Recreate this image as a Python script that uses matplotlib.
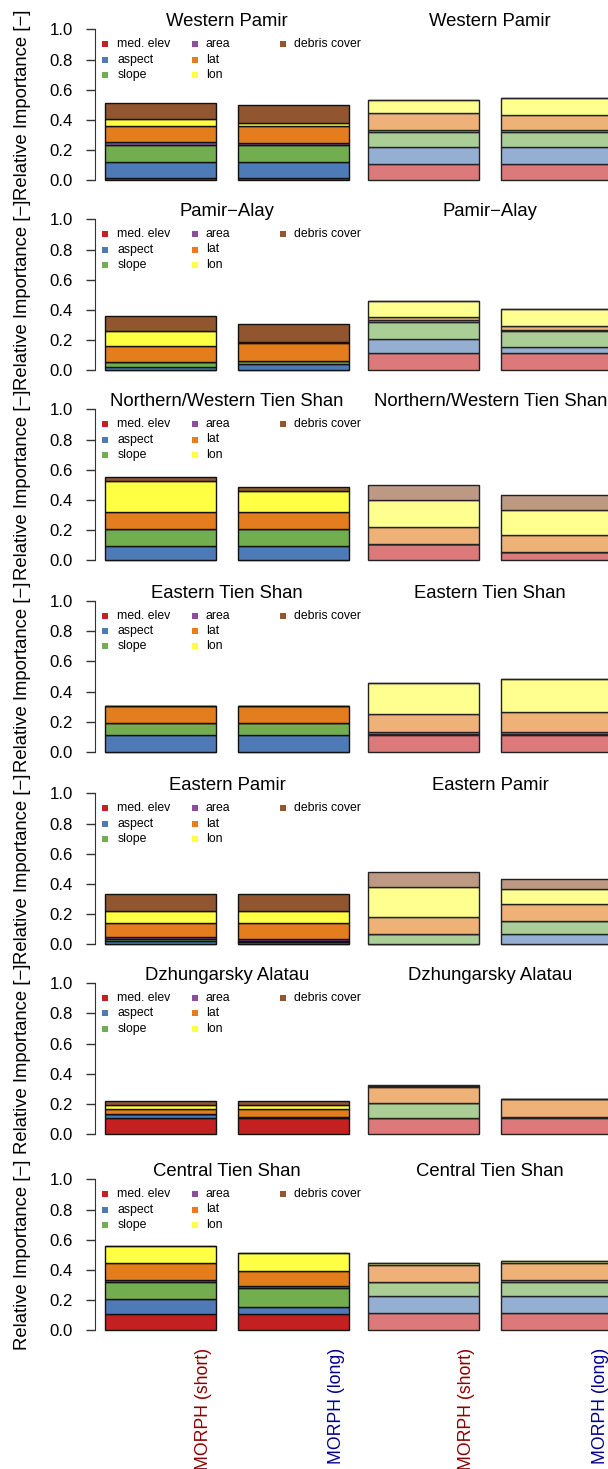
import matplotlib
matplotlib.use("Agg")
import matplotlib.pyplot as plt
from matplotlib.colors import to_rgb

plt.rcParams['font.family'] = ['Liberation Sans', 'DejaVu Sans']

# ---------------- data ----------------
regions = ["Western Pamir", "Pamir\u2212Alay", "Northern/Western Tien Shan",
           "Eastern Tien Shan", "Eastern Pamir", "Dzhungarsky Alatau",
           "Central Tien Shan"]
variables = ["med. elev", "aspect", "slope", "area", "lat", "lon", "debris cover"]
bar_labels = ["MORPH (short)", "MORPH (long)"]

# each: [left short, left long, right short, right long]; values per variable
western_pamir = [
    [0.013, 0.108, 0.115, 0.016, 0.108, 0.044, 0.108],
    [0.013, 0.108, 0.115, 0.014, 0.110, 0.022, 0.119],
    [0.108, 0.113, 0.097, 0.015, 0.111, 0.086, 0.000],
    [0.108, 0.113, 0.097, 0.015, 0.097, 0.113, 0.000],
]
pamir_alay = [
    [0.000, 0.024, 0.029, 0.000, 0.110, 0.099, 0.099],
    [0.000, 0.040, 0.024, 0.000, 0.115, 0.011, 0.115],
    [0.113, 0.095, 0.110, 0.015, 0.020, 0.106, 0.000],
    [0.113, 0.040, 0.110, 0.005, 0.026, 0.112, 0.000],
]
nw_tien_shan = [
    [0.000, 0.095, 0.110, 0.000, 0.113, 0.207, 0.029],
    [0.000, 0.095, 0.110, 0.000, 0.113, 0.139, 0.029],
    [0.106, 0.000, 0.000, 0.000, 0.115, 0.181, 0.099],
    [0.053, 0.000, 0.000, 0.000, 0.113, 0.165, 0.099],
]
eastern_tien_shan = [
    [0.000, 0.110, 0.085, 0.000, 0.110, 0.000, 0.000],
    [0.000, 0.110, 0.085, 0.000, 0.110, 0.000, 0.000],
    [0.110, 0.012, 0.012, 0.000, 0.115, 0.210, 0.000],
    [0.110, 0.012, 0.012, 0.000, 0.130, 0.220, 0.000],
]
eastern_pamir = [
    [0.000, 0.025, 0.010, 0.015, 0.090, 0.083, 0.112],
    [0.005, 0.010, 0.010, 0.010, 0.105, 0.080, 0.115],
    [0.000, 0.000, 0.071, 0.000, 0.112, 0.194, 0.100],
    [0.000, 0.071, 0.081, 0.000, 0.115, 0.097, 0.069],
]
dzhungarsky_alatau = [
    [0.106, 0.026, 0.000, 0.000, 0.038, 0.026, 0.025],
    [0.106, 0.008, 0.003, 0.000, 0.050, 0.025, 0.029],
    [0.106, 0.000, 0.099, 0.000, 0.111, 0.006, 0.007],
    [0.110, 0.005, 0.000, 0.000, 0.117, 0.000, 0.000],
]
central_tien_shan = [
    [0.111, 0.099, 0.111, 0.015, 0.113, 0.111, 0.000],
    [0.111, 0.044, 0.126, 0.013, 0.100, 0.115, 0.000],
    [0.115, 0.111, 0.097, 0.000, 0.111, 0.015, 0.000],
    [0.115, 0.111, 0.097, 0.013, 0.111, 0.015, 0.000],
]
all_regions = [western_pamir, pamir_alay, nw_tien_shan, eastern_tien_shan,
               eastern_pamir, dzhungarsky_alatau, central_tien_shan]

# ---------------- style ----------------
colors = ["#C42022", "#4E7AB5", "#72AE50", "#8E4E9E", "#E37D1E", "#FFFF44", "#915530"]


def lighten(c, a=0.6):
    r, g, b = to_rgb(c)
    return (1 - a + a * r, 1 - a + a * g, 1 - a + a * b)


light_colors = [lighten(c) for c in colors]

FIG_W, FIG_H = 608, 1469
fig = plt.figure(figsize=(FIG_W / 100, FIG_H / 100), dpi=100)


def add_ax(left_px, top_px, w_px, h_px):
    return fig.add_axes([left_px / FIG_W, 1 - (top_px + h_px) / FIG_H,
                         w_px / FIG_W, h_px / FIG_H])


row_one_px = [29.3, 219.3, 409.3, 601.0, 793.3, 983.3, 1179.3]
S = 151.0     # px per unit in y
U = 111.0     # px per unit in x
xpos = [0.2, 1.4]

for i, (name, data) in enumerate(zip(regions, all_regions)):
    y1 = row_one_px[i]
    top = y1 - 0.04 * S
    h = 1.08 * S
    axL = add_ax(95, top, 2.49 * U, h)
    axL.set_xlim(0.11, 2.6)
    axR = add_ax(346, top, 2.6 * U, h)
    axR.set_xlim(0, 2.6)
    for ax in (axL, axR):
        ax.set_ylim(-0.04, 1.04)
        ax.patch.set_visible(False)
        for sp in ax.spines.values():
            sp.set_visible(False)
        ax.set_xticks([])
        ax.text(1.3, 1.02, name, ha='center', va='baseline', fontsize=13.3)

    for ax, bars, cols, ec in ((axL, data[:2], colors, '#111111'),
                               (axR, data[2:], light_colors, '#222222')):
        for xb, vals in zip(xpos, bars):
            bottom = 0.0
            for v, c in zip(vals, cols):
                ax.bar(xb, v, width=1.0, bottom=bottom, align='edge',
                       color=c, edgecolor=ec, linewidth=1.0)
                bottom += v

    # y axis (left panel only)
    axL.spines['left'].set_visible(True)
    axL.spines['left'].set_bounds(0, 1)
    axL.spines['left'].set_color('#333333')
    axL.set_yticks([0, 0.2, 0.4, 0.6, 0.8, 1.0])
    axL.set_yticklabels(["0.0", "0.2", "0.4", "0.6", "0.8", "1.0"])
    axL.tick_params(axis='y', length=6.5, width=1.0, color='#333333',
                    pad=9.5, labelsize=12.1)
    axR.set_yticks([])

    # y label
    fig.text(23 / FIG_W, 1 - (y1 + 0.5 * S) / FIG_H, "Relative Importance [\u2212]",
             rotation=90, ha='center', va='center', fontsize=13.3)

    # legend
    leg_x = [(0.2, 0.31), (1.01, 1.11), (1.80, 1.90)]
    leg_y = [0.9, 0.8, 0.7]
    for k, (lab, c) in enumerate(zip(variables, colors)):
        col, row = divmod(k, 3)
        mx, tx = leg_x[col]
        my = leg_y[row]
        axL.plot([mx], [my], marker='s', markersize=4.0, color=c,
                 markeredgewidth=0, linestyle='none')
        axL.text(tx, my, lab, ha='left', va='center', fontsize=8.8)

    # bottom labels on last row
    if i == len(regions) - 1:
        lab_cols = ["#8B0000", "#00008B"]
        for ax in (axL, axR):
            for xb, lab, lc in zip(xpos, bar_labels, lab_cols):
                ax.text(xb + 0.5 + 0.39, -0.115, lab, rotation=90, ha='center',
                        va='top', fontsize=12.7, color=lc, clip_on=False)

fig.savefig("out.png", dpi=100)
